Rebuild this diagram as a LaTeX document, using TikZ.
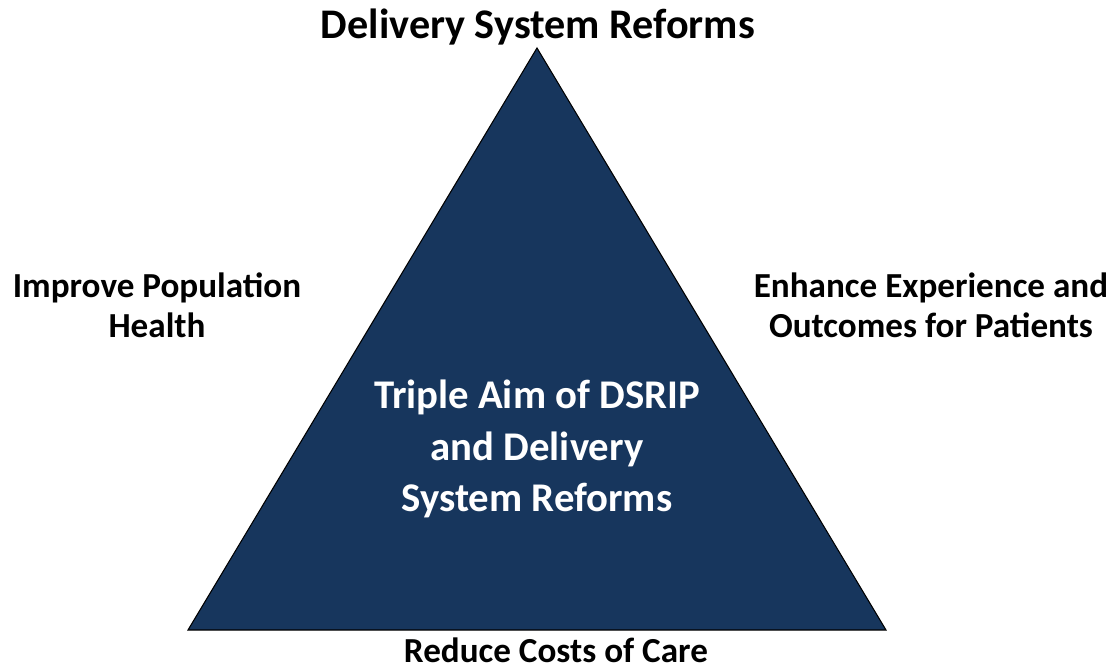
\documentclass[tikz,border=0pt]{standalone}
\usepackage{fontspec}
\setmainfont{Carlito}
\usepackage{tikz}
\usetikzlibrary{positioning}
\definecolor{cnavy}{RGB}{23,54,93}

\begin{document}
\begin{tikzpicture}[
      lbl/.style={font=\fontsize{20}{23}\selectfont\bfseries, align=center, inner sep=0pt},
      toplbl/.style={font=\fontsize{24}{28}\selectfont\bfseries, align=center, inner sep=0pt},
      inlbl/.style={font=\fontsize{23.2}{29.5}\selectfont\bfseries, text=white, align=center, inner sep=0pt},
      tri/.style={draw=black, line width=0.6pt, fill=cnavy}
    ]
    \useasboundingbox (0,0) rectangle (22.24,-13.38);
    % triangle corners
    \coordinate (top) at (10.74,-0.96);
    \coordinate (bl) at (3.76,-12.6);
    \coordinate (br) at (17.72,-12.6);
    \draw[tri] (top) -- (br) -- (bl) -- cycle;
    \node[toplbl] (dsr) at (10.76,-0.55) {Delivery System Reforms};
    \node[lbl] (pop) at (3.14,-6.1) {Improve Population\\Health};
    \node[lbl] (exp) at (18.62,-6.1) {Enhance Experience and\\Outcomes for Patients};
    \node[lbl] (cost) at (11.12,-13.0) {Reduce Costs of Care};
    \node[inlbl] (aim) at (10.74,-8.98) {Triple Aim of DSRIP\\and Delivery\\System Reforms};
  \end{tikzpicture}
\end{document}
